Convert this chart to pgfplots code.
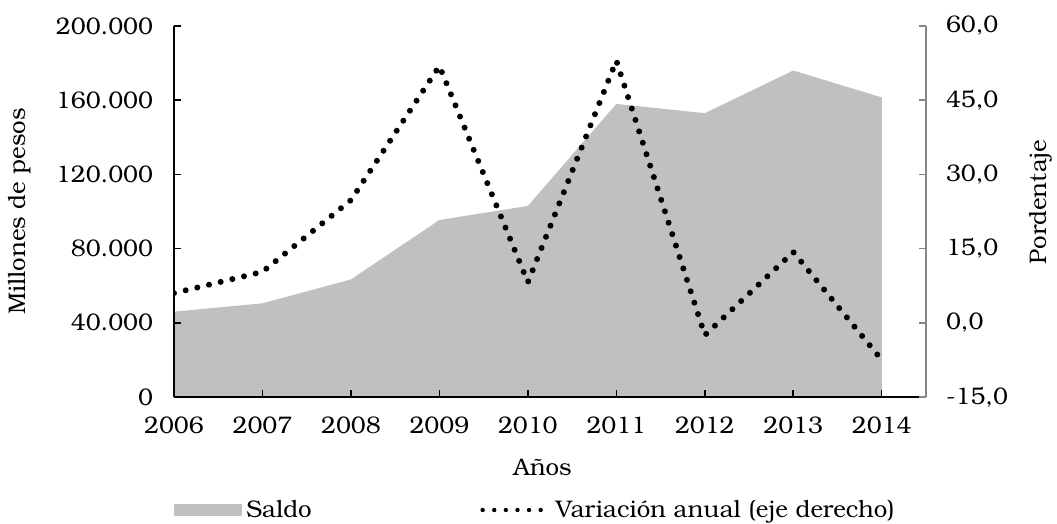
\documentclass[border=0pt]{standalone}
\usepackage{fontspec}
\setmainfont{TeX Gyre Bonum}
\usepackage{pgfplots}
\pgfplotsset{compat=1.18}
\definecolor{areagray}{HTML}{C0C0C0}
\definecolor{axgray}{HTML}{868686}
\begin{document}
\begin{tikzpicture}[font=\fontsize{12bp}{14bp}\selectfont]
\begin{axis}[
  scale only axis, width=376bp, height=185.5bp,
  xmin=2006, xmax=2014.5, ymin=0, ymax=200000,
  axis x line*=bottom, axis y line*=left,
  axis on top=true,
  xtick={2006,2007,...,2014}, ytick={0,40000,...,200000},
  scaled y ticks=false,
  tick align=inside, major tick length=3.5bp,
  tick style={black, line width=0.8bp},
  axis line style={black, line width=1bp},
  xticklabel style={/pgf/number format/.cd, fixed, precision=0, 1000 sep={}, assume math mode=true, /tikz/.cd, yshift=-6.5bp},
  yticklabel style={/pgf/number format/.cd, fixed, precision=0, 1000 sep={.}, assume math mode=true, /tikz/.cd, xshift=-7bp},
  xlabel={Años},
  xlabel style={at={(axis description cs:0.49,-0.189)}, anchor=center},
  ylabel={Millones de pesos},
  ylabel style={at={(axis description cs:-0.205,0.5)}, anchor=center},
  legend style={at={(axis description cs:0,-0.3046)}, anchor=west, draw=none, fill=none, inner sep=0pt},
  legend image code/.code={\fill[areagray] (0bp,-3bp) rectangle (34bp,3bp);},
]
\addplot[fill=areagray, draw=none] coordinates {
  (2006,46000) (2007,50500) (2008,63400) (2009,95400) (2010,103000)
  (2011,158000) (2012,153000) (2013,176000) (2014,161500)
} \closedcycle;
\addlegendentry{Saldo}
\end{axis}
\begin{axis}[
  scale only axis, width=376bp, height=185.5bp,
  xmin=2006, xmax=2014.5, ymin=-15, ymax=60,
  axis x line=none, axis y line*=right,
  ytick={-15,0,...,60},
  tick align=inside, major tick length=3.5bp,
  tick style={axgray, line width=0.8bp},
  axis line style={axgray, line width=1bp},
  yticklabel style={/pgf/number format/.cd, fixed, fixed zerofill, precision=1, use comma, assume math mode=true, /tikz/.cd, xshift=6.5bp},
  ylabel={Pordentaje},
  ylabel style={at={(axis description cs:1.153,0.526)}, anchor=center},
  legend style={at={(axis description cs:0.407,-0.3046)}, anchor=west, draw=none, fill=none, inner sep=0pt},
  legend image code/.code={\draw[line width=2.2bp, dash pattern=on 0pt off 5.8bp, line cap=round] (1bp,0) -- (31bp,0); \path (34bp,0);},
]
\addplot[black, line width=3bp, line cap=round, dash pattern=on 0pt off 6bp] coordinates {
  (2006,6.0) (2007,10.3) (2008,24.8) (2009,51.9) (2010,8.2)
  (2011,53.0) (2012,-2.5) (2013,14.3) (2014,-7.5)
};
\addlegendentry{Variación anual (eje derecho)}
\end{axis}
\pgfresetboundingbox
\path[use as bounding box] ([shift={(-87bp,-63.5bp)}]current axis.south west) rectangle ++(528.5bp,262bp);
\end{tikzpicture}
\end{document}
